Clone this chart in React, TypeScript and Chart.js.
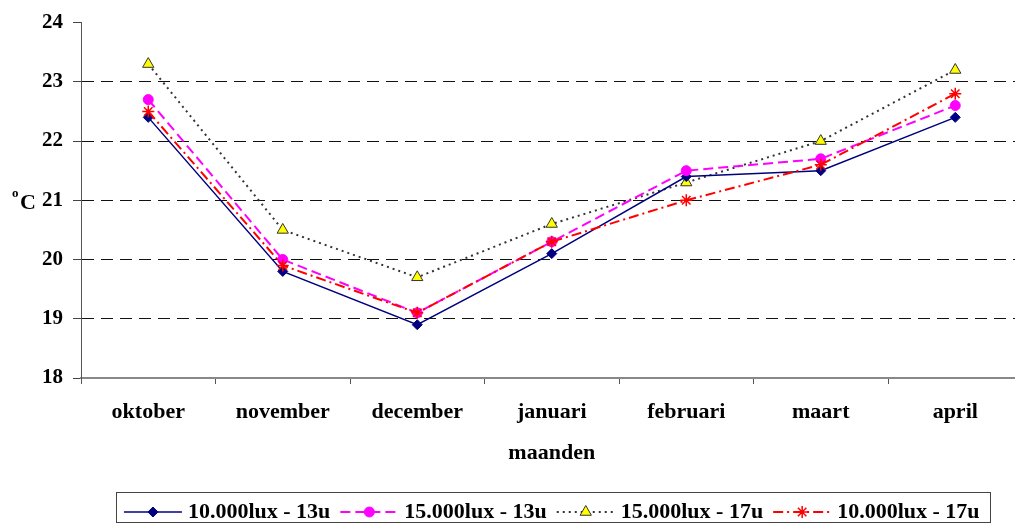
import React, { useEffect, useRef } from 'react';
import { Chart, registerables } from 'chart.js';
import { drawPoint } from 'chart.js/helpers';

Chart.register(...registerables);

const months = ['oktober', 'november', 'december', 'januari', 'februari', 'maart', 'april'];
const yTickValues = [18, 19, 20, 21, 22, 23, 24];
const seriesLabels = ['10.000lux - 13u', '15.000lux - 13u', '15.000lux - 17u', '10.000lux - 17u'];
const lux10h13 = [22.4, 19.8, 18.9, 20.1, 21.4, 21.5, 22.4];
const lux15h13 = [22.7, 20.0, 19.1, 20.3, 21.5, 21.7, 22.6];
const lux15h17 = [23.3, 20.5, 19.7, 20.6, 21.3, 22.0, 23.2];
const lux10h17 = [22.5, 19.9, 19.1, 20.3, 21.0, 21.6, 22.8];
const xTitle = 'maanden';
const yUnitSup = 'o';
const yUnitMain = 'C';

const FONT = '"Liberation Serif", "Times New Roman", serif';

const styles = [
  { color: '#000080', dash: [] as number[], width: 1.5, pointStyle: 'rectRot', radius: 5, fill: '#000080', border: '#000080', borderW: 1, order: 3 },
  { color: '#FF00FF', dash: [10, 5], width: 2, pointStyle: 'circle', radius: 5, fill: '#FF00FF', border: '#FF00FF', borderW: 1, order: 2 },
  { color: '#333333', dash: [2, 4], width: 2, pointStyle: 'triangle', radius: 6.5, fill: '#FFFF00', border: '#333333', borderW: 1, order: 4 },
  { color: '#FF0000', dash: [10, 4, 2, 4], width: 2, pointStyle: 'star', radius: 6, fill: '#FF0000', border: '#FF0000', borderW: 1.5, order: 1 },
];

const seriesData = [lux10h13, lux15h13, lux15h17, lux10h17];

const decorPlugin = {
  id: 'decor',
  afterDraw(chart: any) {
    const ctx = chart.ctx as CanvasRenderingContext2D;
    const yScale = chart.scales.y;
    const area = chart.chartArea;
    ctx.save();
    const y21 = yScale.getPixelForValue(21);
    ctx.fillStyle = '#000';
    ctx.textBaseline = 'alphabetic';
    ctx.textAlign = 'left';
    ctx.font = `bold 13px ${FONT}`;
    ctx.fillText(yUnitSup, 12, y21 - 3);
    ctx.font = `bold 22px ${FONT}`;
    ctx.fillText(yUnitMain, 20, y21 + 9);

    ctx.font = `bold 22px ${FONT}`;
    const sampleW = 58, gapS = 6, gapI = 10;
    const widths = chart.data.datasets.map((d: any) => ctx.measureText(d.label).width);
    const total = widths.reduce((a: number, w: number) => a + sampleW + gapS + w, 0) + gapI * (widths.length - 1);
    let x = (area.left + area.right) / 2 - total / 2;
    const ly = 512;
    ctx.strokeStyle = '#444';
    ctx.lineWidth = 1;
    ctx.strokeRect(Math.round(x - 8) + 0.5, 492.5, Math.round(total + 18), 30);
    chart.data.datasets.forEach((d: any, i: number) => {
      const s = styles[i];
      ctx.save();
      ctx.strokeStyle = s.color;
      ctx.lineWidth = s.width;
      ctx.setLineDash(s.dash);
      ctx.beginPath();
      ctx.moveTo(x, ly);
      ctx.lineTo(x + sampleW, ly);
      ctx.stroke();
      ctx.setLineDash([]);
      ctx.fillStyle = s.fill;
      ctx.strokeStyle = s.border;
      ctx.lineWidth = s.borderW;
      drawPoint(ctx, { pointStyle: s.pointStyle as any, radius: s.radius, rotation: 0, borderWidth: s.borderW }, x + sampleW / 2, ly);
      ctx.restore();
      ctx.fillStyle = '#000';
      ctx.textBaseline = 'middle';
      ctx.textAlign = 'left';
      ctx.fillText(d.label, x + sampleW + gapS, ly);
      x += sampleW + gapS + widths[i] + gapI;
    });
    ctx.restore();
  },
};

export default function App() {
  const canvasRef = useRef<HTMLCanvasElement | null>(null);

  useEffect(() => {
    if (!canvasRef.current) return;
    Chart.defaults.font.family = FONT;
    const chart = new Chart(canvasRef.current, {
      type: 'line',
      data: {
        labels: months,
        datasets: seriesData.map((vals, i) => {
          const s = styles[i];
          return {
            label: seriesLabels[i],
            data: vals,
            borderColor: s.color,
            borderWidth: s.width,
            borderDash: s.dash,
            tension: 0,
            fill: false,
            pointStyle: s.pointStyle as any,
            pointRadius: s.radius,
            pointHoverRadius: s.radius,
            pointBackgroundColor: s.fill,
            pointBorderColor: s.border,
            pointBorderWidth: s.borderW,
            order: s.order,
          };
        }),
      },
      options: {
        animation: false,
        responsive: true,
        maintainAspectRatio: false,
        layout: { padding: { top: 19, right: 7.5, bottom: 53, left: 0 } },
        plugins: {
          legend: { display: false },
          tooltip: { enabled: false },
          title: { display: false },
        },
        scales: {
          x: {
            type: 'category',
            offset: true,
            grid: {
              offset: true,
              drawOnChartArea: false,
              drawTicks: true,
              tickLength: 6,
              tickColor: '#555',
              color: '#555',
            },
            border: { display: true, color: '#888', width: 2 },
            ticks: {
              color: '#000',
              padding: 15,
              maxRotation: 0,
              autoSkip: false,
              font: { size: 22, weight: 'bold', family: FONT },
            },
            title: {
              display: true,
              text: xTitle,
              color: '#000',
              font: { size: 22, weight: 'bold', family: FONT },
              padding: { top: 0, bottom: 4 },
            },
            afterFit: (s: any) => { s.height = 93; },
          },
          y: {
            min: 18,
            max: 24,
            afterBuildTicks: (s: any) => { s.ticks = yTickValues.map((v) => ({ value: v })); },
            grid: {
              color: (c: any) => (c.tick && (c.tick.value === 18 || c.tick.value === 24) ? 'rgba(0,0,0,0)' : '#111'),
              lineWidth: 1,
              drawTicks: true,
              tickLength: 8,
              tickColor: '#444',
            },
            border: { display: true, color: '#555', width: 1, dash: [12, 7] },
            ticks: {
              color: '#000',
              padding: 10,
              font: { size: 21, weight: 'bold', family: FONT },
            },
            afterFit: (s: any) => { s.width = 81; },
          },
        },
      },
      plugins: [decorPlugin],
    });
    return () => chart.destroy();
  }, []);

  return (
    <div style={{ position: 'fixed', left: 0, top: 0, width: 1015, height: 524, overflow: 'hidden', background: '#fff' }}>
      <div style={{ position: 'relative', width: 1030, height: 524 }}>
        <canvas ref={canvasRef} />
      </div>
    </div>
  );
}
